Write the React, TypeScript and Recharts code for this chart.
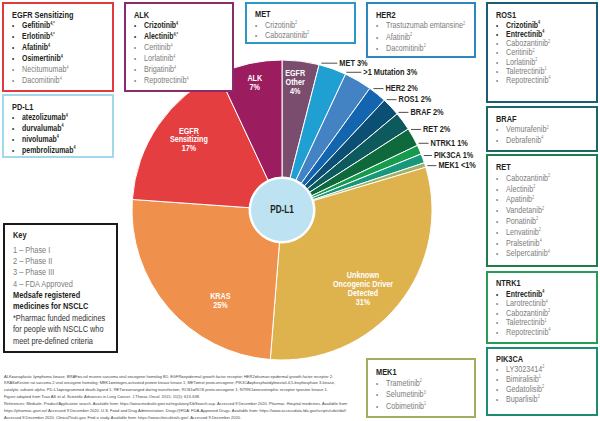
import { Cell, Pie, PieChart } from "recharts";

const FONT = '"Liberation Sans", Arial, sans-serif';
const NARROW = 0.82; // Liberation Sans squeezed to Arial Narrow proportions
const RAD = Math.PI / 180;
const DARK = "#231f20";
const GREY = "#7d7d7d";

// ---- pie data (clockwise from 12 o'clock)
const SLICE_NAMES = [
  "EGFR Other", "MET", ">1 Mutation", "HER2", "ROS1", "BRAF", "RET", "NTRK1", "PIK3CA", "MEK1",
  "Unknown Oncogenic Driver Detected", "KRAS", "EGFR Sensitizing", "ALK",
];
const SLICE_VALUES = [4, 3, 3, 2, 2, 2, 2, 1, 1, 0.5, 31, 25, 17, 7];
const SLICE_LABELS = [
  "EGFR\nOther\n4%", "MET 3%", ">1 Mutation 3%", "HER2 2%", "ROS1 2%", "BRAF 2%", "RET 2%",
  "NTRK1 1%", "PIK3CA 1%", "MEK1 <1%", "Unknown\nOncogenic Driver\nDetected\n31%", "KRAS\n25%",
  "EGFR\nSensitizing\n17%", "ALK\n7%",
];
const SLICE_COLORS = [
  "#7a4d6f", "#1f9fd2", "#4383c4", "#1465b0", "#0b4f74", "#0c5a5e", "#0e6a3d", "#169a4c",
  "#17987c", "#a3b067", "#deb24d", "#ef914c", "#e53e41", "#9b1d5f",
];
const CENTER_NAME = ["PD-L1"];
const CENTER_VALUE = [1];

const sliceData = SLICE_NAMES.map((name, i) => ({ name, value: SLICE_VALUES[i] }));
const centerData = CENTER_NAME.map((name, i) => ({ name, value: CENTER_VALUE[i] }));

// ---- therapy boxes: [drug, superscript, bold]
type Drug = [string, string, number];
const EGFR_DRUGS: Drug[] = [
  ["Gefitinib", "4,*", 1], ["Erlotinib", "4,*", 1], ["Afatinib", "4", 1], ["Osimertinib", "4", 1],
  ["Necitumumab", "4", 0], ["Dacomitinib", "4", 0],
];
const ALK_DRUGS: Drug[] = [
  ["Crizotinib", "4", 1], ["Alectinib", "4,*", 1], ["Ceritinib", "4", 0], ["Lorlatinib", "4", 0],
  ["Brigatinib", "4", 0], ["Repotrectinib", "4", 0],
];
const PDL1_DRUGS: Drug[] = [
  ["atezolizumab", "4", 1], ["durvalumab", "4", 1], ["nivolumab", "4", 1], ["pembrolizumab", "4", 1],
];
const MET_DRUGS: Drug[] = [["Crizotinib", "2", 0], ["Cabozantinib", "2", 0]];
const HER2_DRUGS: Drug[] = [["Trastuzumab emtansine", "2", 0], ["Afatinib", "2", 0], ["Dacomitinib", "2", 0]];
const ROS1_DRUGS: Drug[] = [
  ["Crizotinib", "4", 1], ["Entrectinib", "4", 1], ["Cabozantinib", "2", 0], ["Ceritinib", "2", 0],
  ["Lorlatinib", "2", 0], ["Taletrectinib", "1", 0], ["Repotrectinib", "4", 0],
];
const BRAF_DRUGS: Drug[] = [["Vemurafenib", "2", 0], ["Debrafenib", "4", 0]];
const RET_DRUGS: Drug[] = [
  ["Cabozantinib", "2", 0], ["Alectinib", "2", 0], ["Apatinib", "2", 0], ["Vandetanib", "2", 0],
  ["Ponatinib", "2", 0], ["Lenvatinib", "2", 0], ["Pralsetinib", "4", 0], ["Selpercatinib", "4", 0],
];
const NTRK1_DRUGS: Drug[] = [
  ["Entrectinib", "4", 1], ["Larotrectinib", "4", 0], ["Cabozantinib", "2", 0], ["Taletrectinib", "1", 0],
  ["Repotrectinib", "4", 0],
];
const PIK3CA_DRUGS: Drug[] = [
  ["LY3023414", "2", 0], ["Bimiralisib", "1", 0], ["Gedatolisib", "2", 0], ["Buparlisib", "2", 0],
];
const MEK1_DRUGS: Drug[] = [["Trametinib", "2", 0], ["Selumetinib", "3", 0], ["Cobimetinib", "1", 0]];

const KEY_LINES: [string, string][] = [
  ["Key", "b"], ["1 – Phase I", "g"], ["2 – Phase II", "g"], ["3 – Phase III", "g"], ["4 – FDA Approved", "g"],
  ["Medsafe registered", "b"], ["medicines for NSCLC", "b"], ["*Pharmac funded medicines", "d"],
  ["for people with NSCLC who", "d"], ["meet pre-defined criteria", "d"],
];

const FOOTNOTE = [
  "ALK=anaplastic lymphoma kinase; BRAF=v-raf murine sarcoma viral oncogene homolog B1; EGFR=epidermal growth factor receptor; HER2=human epidermal growth factor receptor 2;",
  "KRAS=Kirsten rat sarcoma 2 viral oncogene homolog; MEK1=mitogen-activated protein kinase kinase 1; MET=met proto-oncogene; PIK3CA=phosphatidylinositol-4,5-bisphosphate 3-kinase,",
  "catalytic subunit alpha; PD-L1=programmed death-ligand 1; RET=rearranged during transfection; ROS1=ROS proto-oncogene 1; NTRK1=neurotrophic receptor tyrosine kinase 1.",
  "Figure adapted from Tsao AS et al. Scientific Advances in Lung Cancer. J Thorac Oncol. 2015; 11(5): 613-638.",
  "References: Medsafe. Product/Application search. Available from: https://www.medsafe.govt.nz/regulatory/DbSearch.asp. Accessed 9 December 2020. Pharmac. Hospital medicines. Available from:",
  "https://pharmac.govt.nz/ Accessed 9 December 2020. U.S. Food and Drug Administration. Drugs@FDA: FDA-Approved Drugs. Available from: https://www.accessdata.fda.gov/scripts/cder/daf/.",
  "Accessed 9 December 2020. ClinicalTrials.gov. Find a study. Available from: https://www.clinicaltrials.gov/. Accessed 9 December 2020.",
];

// ---- layout
const CX = 282;
const CY = 210;
const R = 150;

const INSIDE_LABEL: Record<string, { r: number; shift: number }> = {
  "EGFR Other": { r: 0.86, shift: 1.3 },
  "Unknown Oncogenic Driver Detected": { r: 0.75, shift: -5 },
  KRAS: { r: 0.73, shift: 15 },
  "EGFR Sensitizing": { r: 0.78, shift: -2.8 },
  ALK: { r: 0.87, shift: -0.5 },
};
const OUTSIDE_LABEL: Record<string, { nudge: number; len: number }> = {
  MET: { nudge: 4.7, len: 16 },
  ">1 Mutation": { nudge: 5.4, len: 15 },
  HER2: { nudge: 2.4, len: 10 },
  ROS1: { nudge: 3.1, len: 10 },
  BRAF: { nudge: 3.7, len: 10 },
  RET: { nudge: 2.9, len: 10 },
  NTRK1: { nudge: 2.3, len: 10 },
  PIK3CA: { nudge: 0.85, len: 8 },
  MEK1: { nudge: -0.5, len: 9 },
};

const BOXES = [
  { title: "EGFR Sensitizing", items: EGFR_DRUGS, x: 3, y: 3, w: 110, h: 88, color: "#e0393e", ty: 15, fy: 25.5, step: 11 },
  { title: "ALK", items: ALK_DRUGS, x: 125, y: 3, w: 108, h: 88, color: "#8c2b6b", ty: 15, fy: 25.5, step: 11 },
  { title: "PD-L1", items: PDL1_DRUGS, x: 3, y: 95, w: 110, h: 62, color: "#a3d8ec", ty: 107, fy: 117.5, step: 10.8 },
  { title: "MET", items: MET_DRUGS, x: 246, y: 3, w: 109, h: 40, color: "#2a97c6", ty: 14.5, fy: 25, step: 10 },
  { title: "HER2", items: HER2_DRUGS, x: 367, y: 3, w: 108, h: 54, color: "#2e86c0", ty: 15, fy: 25.5, step: 11.3 },
  { title: "ROS1", items: ROS1_DRUGS, x: 487, y: 3, w: 110, h: 99, color: "#1b5d76", ty: 15, fy: 25, step: 9.2 },
  { title: "BRAF", items: BRAF_DRUGS, x: 487, y: 107, w: 110, h: 44, color: "#1d6668", ty: 119, fy: 129.5, step: 10.5 },
  { title: "RET", items: RET_DRUGS, x: 487, y: 155, w: 110, h: 111, color: "#1e7c4d", ty: 167, fy: 178, step: 10.8 },
  { title: "NTRK1", items: NTRK1_DRUGS, x: 487, y: 272, w: 110, h: 71, color: "#279c55", ty: 283, fy: 294, step: 9.5 },
  { title: "PIK3CA", items: PIK3CA_DRUGS, x: 487, y: 348, w: 110, h: 67, color: "#1c8c74", ty: 359, fy: 369, step: 10 },
  { title: "MEK1", items: MEK1_DRUGS, x: 367, y: 359, w: 108, h: 58, color: "#9faf62", ty: 372, fy: 383, step: 11.5 },
];

const KEY_Y = [235, 250, 261, 272.5, 284, 295.5, 306.5, 318, 329.5, 341];
const FOOT_WIDTHS = [329, 331, 324, 196, 344, 343, 237];

// narrow text: regular face squeezed horizontally around its anchor point
function NText({ x, y, children, ...rest }: any) {
  return (
    <text transform={`translate(${x},${y}) scale(${NARROW},1)`} x={0} y={0} fontFamily={FONT} dominantBaseline="central" {...rest}>
      {children}
    </text>
  );
}

function SliceLabel(props: any) {
  const { cx, cy, midAngle, outerRadius } = props;
  const idx = SLICE_NAMES.indexOf(props.name);
  const name = SLICE_NAMES[idx];
  const text = SLICE_LABELS[idx];
  const inside = INSIDE_LABEL[name];
  if (inside) {
    const a = (midAngle + inside.shift) * RAD;
    const r = outerRadius * inside.r;
    const x = cx + r * Math.cos(a);
    const y = cy - r * Math.sin(a);
    const lines = text.split("\n");
    const lh = 8.8;
    const y0 = y - ((lines.length - 1) * lh) / 2;
    return (
      <NText x={x} y={y0} fill="#fff" fontSize={8.8} fontWeight={700} textAnchor="middle">
        {lines.map((l, i) => (
          <tspan key={i} x={0} y={i * lh}>
            {l}
          </tspan>
        ))}
      </NText>
    );
  }
  const o = OUTSIDE_LABEL[name];
  const a = (midAngle + o.nudge) * RAD;
  const sx = cx + (outerRadius + 2) * Math.cos(a);
  const sy = cy - (outerRadius + 2) * Math.sin(a);
  return (
    <g>
      <line x1={sx} y1={sy} x2={sx + o.len} y2={sy} stroke={DARK} strokeWidth={0.8} />
      <NText x={sx + o.len + 2} y={sy} fill={DARK} fontSize={9} fontWeight={700}>
        {text}
      </NText>
    </g>
  );
}

function CenterLabel(props: any) {
  return (
    <NText x={props.cx} y={props.cy} fill={DARK} fontSize={10} fontWeight={700} textAnchor="middle">
      {props.name}
    </NText>
  );
}

function TherapyBox({ box }: { box: (typeof BOXES)[number] }) {
  return (
    <g>
      <rect x={box.x} y={box.y} width={box.w} height={box.h} fill="#fff" stroke={box.color} strokeWidth={2} />
      <NText x={box.x + 9} y={box.ty} fontSize={9} fontWeight={700} fill={DARK}>
        {box.title}
      </NText>
      {box.items.map(([drug, sup, bold], i) => {
        const y = box.fy + i * box.step;
        return (
          <g key={drug + i}>
            <NText x={box.x + 9} y={y} fontSize={7.5} fill={bold ? DARK : GREY}>
              •
            </NText>
            <NText x={box.x + 19} y={y} fontSize={bold ? 8.5 : 8.8} fontWeight={bold ? 700 : 400} fill={bold ? DARK : GREY}>
              {drug}
              <tspan fontSize={4.5} dy={-3}>
                {sup}
              </tspan>
            </NText>
          </g>
        );
      })}
    </g>
  );
}

export default function App() {
  return (
    <div style={{ position: "absolute", left: 0, top: 0, width: 600, height: 421, background: "#fff", overflow: "hidden" }}>
      <PieChart width={600} height={421} margin={{ top: 0, right: 0, bottom: 0, left: 0 }}>
        <Pie
          data={sliceData}
          dataKey="value"
          nameKey="name"
          cx={CX}
          cy={CY}
          innerRadius={33}
          outerRadius={R}
          startAngle={90}
          endAngle={-270}
          stroke="#fff"
          strokeWidth={1}
          label={SliceLabel}
          labelLine={false}
          isAnimationActive={false}
        >
          {sliceData.map((d, i) => (
            <Cell key={d.name} fill={SLICE_COLORS[i]} />
          ))}
        </Pie>
        <Pie
          data={centerData}
          dataKey="value"
          nameKey="name"
          cx={CX}
          cy={CY}
          outerRadius={31}
          startAngle={90}
          endAngle={-270}
          fill="#bde3f3"
          stroke="none"
          label={CenterLabel}
          labelLine={false}
          isAnimationActive={false}
        />
      </PieChart>
      <svg width={600} height={421} style={{ position: "absolute", left: 0, top: 0, pointerEvents: "none" }}>
        {BOXES.map((b) => (
          <TherapyBox key={b.title} box={b} />
        ))}
        <rect x={4} y={224} width={113} height={128} fill="#fff" stroke="#1a1a1a" strokeWidth={2} />
        {KEY_LINES.map(([t, kind], i) => (
          <NText
            key={t}
            x={13}
            y={KEY_Y[i]}
            fontSize={9}
            fontWeight={kind === "b" ? 700 : 400}
            fill={kind === "g" ? GREY : kind === "d" ? "#333" : DARK}
          >
            {t}
          </NText>
        ))}
        <g fontFamily={FONT} fontSize={3.7} fill="#444">
          {FOOTNOTE.map((line, i) => (
            <text key={i} x={4} y={376.5 + i * 6.9} textLength={FOOT_WIDTHS[i]} lengthAdjust="spacingAndGlyphs" dominantBaseline="central">
              {line}
            </text>
          ))}
        </g>
      </svg>
    </div>
  );
}
